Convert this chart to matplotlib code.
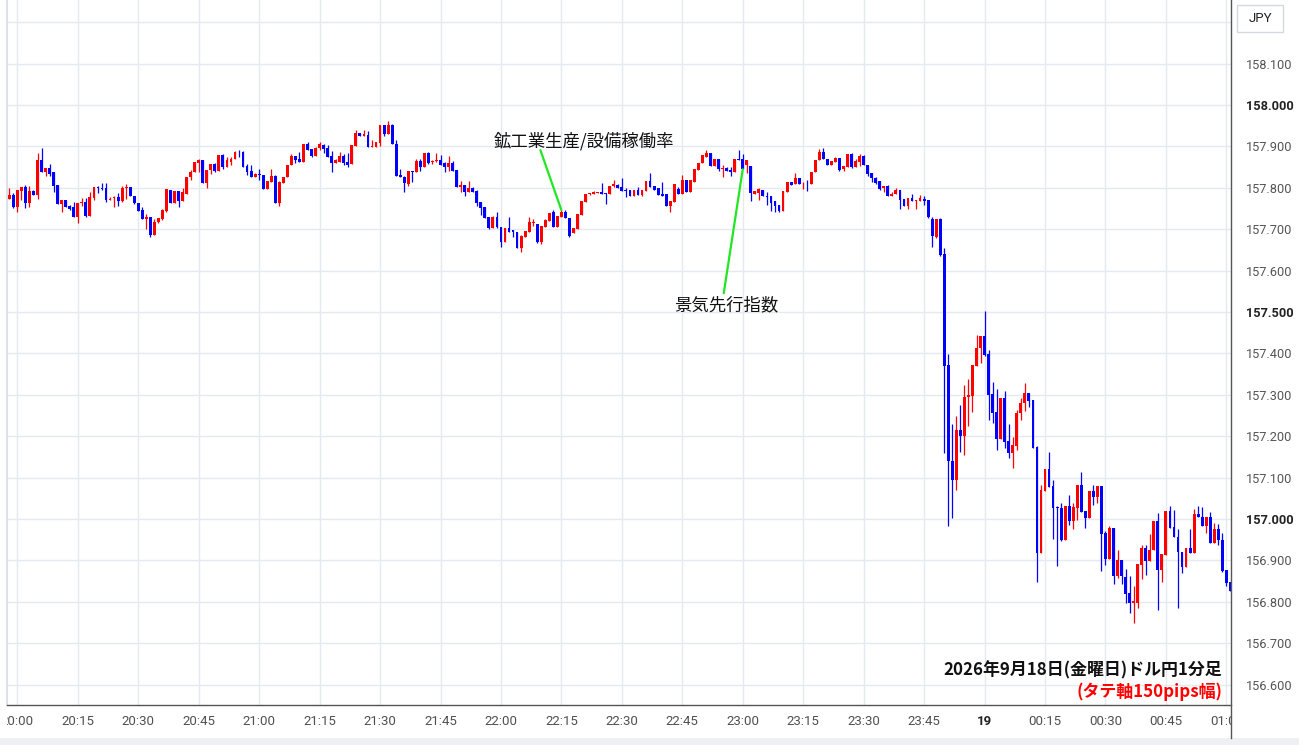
import matplotlib
matplotlib.use('Agg')
import matplotlib.pyplot as plt
from matplotlib.patches import Rectangle
from matplotlib.lines import Line2D
from matplotlib.transforms import Bbox, TransformedBbox
import numpy as np

# ---------------- data: USD/JPY 1-minute candles, first candle 19:58 ----------------
first_candle_minute = -2   # minutes relative to 20:00

opens = [
    157.773,157.783,157.754,157.792,157.802,157.764,157.792,157.783,157.867,157.838,
    157.847,157.837,157.807,157.762,157.771,157.756,157.754,157.730,157.763,157.766,
    157.732,157.775,157.802,157.800,157.800,157.771,157.775,157.778,157.768,157.800,
    157.802,157.780,157.764,157.746,157.725,157.729,157.687,157.717,157.725,157.745,
    157.795,157.764,157.792,157.768,157.786,157.825,157.837,157.861,157.867,157.812,
    157.842,157.858,157.841,157.879,157.851,157.863,157.870,157.887,157.887,157.853,
    157.841,157.827,157.833,157.831,157.798,157.815,157.829,157.764,157.812,157.825,
    157.854,157.877,157.870,157.863,157.906,157.894,157.878,157.895,157.903,157.895,
    157.877,157.859,157.863,157.877,157.863,157.857,157.902,157.933,157.924,157.928,
    157.899,157.899,157.909,157.952,157.930,157.952,157.906,157.831,157.827,157.809,
    157.841,157.837,157.865,157.851,157.885,157.862,157.865,157.867,157.859,157.851,
    157.861,157.843,157.803,157.807,157.791,157.799,157.793,157.766,157.753,157.730,
    157.702,157.730,157.705,157.670,157.702,157.698,157.694,157.654,157.682,157.694,
    157.714,157.713,157.670,157.705,157.721,157.742,157.706,157.730,157.742,157.728,
    157.692,157.700,157.735,157.766,157.784,157.785,157.787,157.791,157.788,157.784,
    157.805,157.807,157.803,157.795,157.795,157.781,157.795,157.783,157.793,157.817,
    157.805,157.799,157.785,157.784,157.757,157.765,157.797,157.785,157.820,157.791,
    157.815,157.843,157.859,157.874,157.883,157.853,157.870,157.845,157.847,157.843,
    157.839,157.870,157.870,157.855,157.853,157.785,157.788,157.795,157.781,157.780,
    157.767,157.759,157.744,157.789,157.815,157.808,157.823,157.811,157.812,157.809,
    157.837,157.866,157.886,157.869,157.855,157.863,157.871,157.845,157.851,157.882,
    157.851,157.863,157.878,157.855,157.835,157.823,157.816,157.799,157.805,157.781,
    157.784,157.795,157.773,157.757,157.775,157.767,157.769,157.772,157.771,157.724,
    157.682,157.724,157.640,157.372,157.140,157.094,157.215,157.201,157.294,157.298,
    157.370,157.412,157.442,157.399,157.302,157.259,157.193,157.292,157.189,157.160,
    157.177,157.255,157.279,157.305,157.288,157.175,156.919,157.068,157.121,157.080,
    157.030,157.027,156.949,157.031,156.996,157.027,157.082,157.020,157.003,157.068,
    157.054,157.080,156.967,156.903,156.979,156.863,156.901,156.861,156.822,156.796,
    156.796,156.889,156.929,156.899,156.925,156.995,156.877,156.913,157.019,156.980,
    156.956,156.920,156.883,156.929,156.919,157.012,157.004,156.982,157.004,156.943,
    156.975,156.949,156.877,156.849,
]
highs = [
    157.800,157.788,157.795,157.802,157.807,157.804,157.795,157.883,157.897,157.847,
    157.858,157.837,157.807,157.771,157.771,157.758,157.766,157.763,157.775,157.775,
    157.789,157.802,157.804,157.811,157.811,157.777,157.780,157.788,157.804,157.809,
    157.802,157.780,157.764,157.754,157.737,157.729,157.724,157.727,157.750,157.796,
    157.795,157.792,157.792,157.799,157.826,157.842,157.863,157.870,157.867,157.843,
    157.858,157.861,157.879,157.881,157.875,157.875,157.889,157.891,157.890,157.858,
    157.855,157.835,157.845,157.831,157.816,157.845,157.831,157.816,157.827,157.855,
    157.882,157.877,157.886,157.907,157.910,157.894,157.898,157.911,157.905,157.903,
    157.890,157.870,157.887,157.882,157.883,157.903,157.940,157.933,157.940,157.938,
    157.916,157.910,157.952,157.952,157.961,157.954,157.916,157.845,157.829,157.841,
    157.841,157.870,157.869,157.885,157.887,157.867,157.885,157.879,157.863,157.877,
    157.865,157.843,157.816,157.807,157.816,157.803,157.795,157.766,157.753,157.730,
    157.732,157.742,157.705,157.702,157.730,157.698,157.694,157.686,157.696,157.729,
    157.725,157.713,157.708,157.725,157.740,157.746,157.732,157.746,157.746,157.728,
    157.702,157.737,157.768,157.785,157.788,157.793,157.790,157.812,157.788,157.805,
    157.820,157.808,157.823,157.799,157.795,157.795,157.803,157.795,157.817,157.835,
    157.805,157.799,157.815,157.784,157.767,157.808,157.803,157.831,157.820,157.820,
    157.845,157.861,157.879,157.891,157.883,157.870,157.870,157.855,157.851,157.851,
    157.870,157.891,157.882,157.866,157.853,157.793,157.799,157.795,157.791,157.780,
    157.767,157.759,157.792,157.815,157.815,157.835,157.823,157.813,157.820,157.837,
    157.867,157.893,157.895,157.869,157.865,157.874,157.871,157.853,157.882,157.883,
    157.870,157.881,157.879,157.855,157.835,157.825,157.816,157.804,157.807,157.791,
    157.799,157.795,157.773,157.775,157.785,157.771,157.783,157.780,157.771,157.729,
    157.724,157.726,157.654,157.399,157.230,157.249,157.275,157.324,157.338,157.372,
    157.445,157.442,157.503,157.408,157.330,157.314,157.292,157.308,157.230,157.197,
    157.263,157.292,157.329,157.305,157.288,157.176,157.082,157.121,157.163,157.094,
    157.031,157.039,157.031,157.058,157.039,157.082,157.114,157.020,157.068,157.082,
    157.080,157.080,156.971,156.982,156.979,156.925,156.901,156.879,156.863,156.837,
    156.891,156.937,156.937,156.964,156.995,157.014,156.915,157.019,157.031,157.022,
    156.977,156.920,156.929,156.976,157.023,157.031,157.030,157.004,157.016,156.990,
    156.988,156.967,156.877,156.849,
]
lows = [
    157.772,157.752,157.742,157.771,157.752,157.754,157.783,157.773,157.838,157.829,
    157.829,157.791,157.762,157.742,157.754,157.746,157.730,157.716,157.756,157.730,
    157.732,157.771,157.788,157.795,157.766,157.771,157.754,157.756,157.766,157.774,
    157.779,157.761,157.745,157.725,157.701,157.680,157.687,157.716,157.722,157.742,
    157.764,157.764,157.754,157.768,157.786,157.820,157.837,157.839,157.812,157.800,
    157.833,157.837,157.841,157.845,157.851,157.855,157.870,157.875,157.851,157.831,
    157.827,157.827,157.819,157.798,157.798,157.815,157.763,157.757,157.812,157.825,
    157.854,157.859,157.863,157.863,157.891,157.875,157.878,157.891,157.883,157.875,
    157.837,157.859,157.863,157.855,157.851,157.857,157.902,157.924,157.924,157.898,
    157.899,157.899,157.902,157.926,157.930,157.905,157.829,157.825,157.791,157.805,
    157.815,157.837,157.841,157.851,157.858,157.857,157.863,157.855,157.837,157.841,
    157.841,157.803,157.791,157.781,157.791,157.791,157.755,157.734,157.728,157.701,
    157.702,157.702,157.656,157.670,157.694,157.680,157.654,157.644,157.682,157.694,
    157.708,157.666,157.664,157.705,157.721,157.706,157.706,157.730,157.728,157.682,
    157.692,157.700,157.735,157.766,157.783,157.784,157.787,157.785,157.761,157.784,
    157.803,157.800,157.793,157.777,157.781,157.781,157.783,157.781,157.793,157.803,
    157.795,157.783,157.781,157.757,157.741,157.765,157.785,157.785,157.791,157.791,
    157.815,157.843,157.859,157.874,157.853,157.853,157.841,157.825,157.841,157.829,
    157.839,157.867,157.845,157.835,157.767,157.785,157.771,157.779,157.758,157.745,
    157.742,157.742,157.744,157.789,157.807,157.808,157.808,157.796,157.793,157.809,
    157.837,157.866,157.869,157.855,157.855,157.863,157.841,157.841,157.851,157.849,
    157.851,157.853,157.854,157.829,157.815,157.808,157.795,157.791,157.781,157.781,
    157.784,157.748,157.757,157.750,157.767,157.748,157.767,157.758,157.726,157.658,
    157.678,157.636,157.159,156.982,157.003,157.069,157.163,157.155,157.225,157.259,
    157.370,157.376,157.394,157.239,157.233,157.167,157.193,157.171,157.147,157.124,
    157.167,157.238,157.262,157.271,157.171,156.849,156.919,157.068,157.078,156.952,
    156.887,156.948,156.949,156.986,156.976,156.998,157.018,156.979,157.003,157.035,
    157.039,156.875,156.889,156.903,156.842,156.858,156.843,156.796,156.772,156.750,
    156.784,156.854,156.865,156.899,156.925,156.779,156.849,156.913,156.979,156.956,
    156.784,156.869,156.883,156.919,156.919,157.004,156.982,156.967,156.941,156.943,
    156.936,156.873,156.837,156.825,
]
closes = [
    157.783,157.754,157.795,157.802,157.764,157.792,157.783,157.867,157.838,157.847,
    157.833,157.804,157.762,157.771,157.754,157.750,157.730,157.763,157.766,157.732,
    157.778,157.802,157.799,157.796,157.771,157.774,157.778,157.768,157.800,157.802,
    157.779,157.763,157.745,157.725,157.729,157.687,157.717,157.727,157.746,157.796,
    157.764,157.792,157.768,157.791,157.826,157.839,157.863,157.867,157.812,157.843,
    157.858,157.841,157.879,157.851,157.866,157.870,157.887,157.886,157.851,157.837,
    157.827,157.833,157.831,157.798,157.816,157.829,157.764,157.815,157.825,157.855,
    157.877,157.867,157.863,157.906,157.891,157.878,157.895,157.905,157.894,157.875,
    157.859,157.866,157.878,157.861,157.855,157.903,157.932,157.924,157.930,157.898,
    157.902,157.910,157.952,157.930,157.952,157.905,157.829,157.825,157.811,157.841,
    157.838,157.865,157.851,157.885,157.861,157.865,157.867,157.855,157.851,157.861,
    157.841,157.803,157.807,157.791,157.799,157.791,157.764,157.751,157.728,157.702,
    157.730,157.705,157.670,157.702,157.694,157.694,157.654,157.684,157.696,157.718,
    157.718,157.668,157.708,157.722,157.740,157.706,157.732,157.742,157.728,157.684,
    157.702,157.737,157.768,157.785,157.787,157.789,157.789,157.785,157.785,157.805,
    157.808,157.800,157.793,157.793,157.781,157.795,157.783,157.795,157.817,157.803,
    157.795,157.783,157.781,157.757,157.767,157.808,157.785,157.820,157.791,157.820,
    157.845,157.861,157.879,157.883,157.853,157.870,157.845,157.847,157.841,157.837,
    157.870,157.867,157.845,157.866,157.787,157.793,157.796,157.779,157.777,157.764,
    157.757,157.744,157.792,157.815,157.807,157.823,157.808,157.812,157.811,157.837,
    157.867,157.886,157.869,157.855,157.865,157.871,157.843,157.853,157.882,157.851,
    157.865,157.878,157.854,157.833,157.823,157.812,157.797,157.804,157.781,157.785,
    157.795,157.771,157.757,157.775,157.767,157.771,157.775,157.769,157.729,157.684,
    157.724,157.638,157.370,157.139,157.094,157.215,157.201,157.294,157.300,157.372,
    157.413,157.442,157.396,157.300,157.257,157.193,157.292,157.187,157.160,157.179,
    157.255,157.280,157.305,157.286,157.172,156.919,157.070,157.121,157.078,157.027,
    157.026,156.949,157.031,156.996,157.028,157.082,157.018,157.003,157.068,157.054,
    157.080,156.964,156.903,156.979,156.863,156.901,156.863,156.820,156.796,156.802,
    156.891,156.929,156.899,156.925,156.995,156.877,156.915,157.019,156.979,156.956,
    156.920,156.883,156.929,156.919,157.012,157.004,156.982,157.004,156.943,156.975,
    156.949,156.875,156.846,156.825,
]

xtick_minutes = list(range(0, 301, 15))
xtick_labels = ["20:00", "20:15", "20:30", "20:45", "21:00", "21:15", "21:30", "21:45",
                "22:00", "22:15", "22:30", "22:45", "23:00", "23:15", "23:30", "23:45",
                "19", "00:15", "00:30", "00:45", "01:00"]
ytick_values = [156.6, 156.7, 156.8, 156.9, 157.0, 157.1, 157.2, 157.3, 157.4,
                157.5, 157.6, 157.7, 157.8, 157.9, 158.0, 158.1, 158.2]
ytick_bold = [157.0, 157.5, 158.0]

event_texts = ["鉱工業生産/設備稼働率", "景気先行指数"]
event_minutes = [135, 180]          # 22:15 and 23:00
title_text = "2026年9月18日(金曜日)ドル円1分足"
sub_text = "(タテ軸150pips幅)"

# ---------------- figure ----------------
W, H = 1299, 745
fig = plt.figure(figsize=(W / 100, H / 100), dpi=100)
fig.patch.set_facecolor('white')
ax_l, ax_r, ax_top, ax_bot = 7, 1231, 0, 705
ax = fig.add_axes([ax_l / W, (H - ax_bot) / H, (ax_r - ax_l) / W, (ax_bot - ax_top) / H])

n = len(opens)
assert n == len(highs) == len(lows) == len(closes)
o = np.array(opens); h = np.array(highs); l = np.array(lows); c = np.array(closes)
t = np.arange(n) + first_candle_minute
up = c >= o
RED, BLUE = '#ff0000', '#0000ff'
cols = np.where(up, RED, BLUE)

hi = np.maximum(h, np.maximum(o, c))
lo = np.minimum(l, np.minimum(o, c))
ax.vlines(t, lo, hi, colors=cols, linewidth=0.9, zorder=3)
body_bot = np.minimum(o, c)
body_h = np.maximum(np.abs(c - o), 0.0016)
ax.bar(t, body_h, bottom=body_bot, width=0.7, color=cols, edgecolor='none',
       linewidth=0, zorder=4)

# axis ranges
px_per_min = 4.03
x0 = first_candle_minute - (9.3 - ax_l) / px_per_min
x1 = x0 + (ax_r - ax_l) / px_per_min
ax.set_xlim(x0, x1)
ax.set_ylim(158.0 - 600 / 414, 158.0 + 105 / 414)

# grid
ax.set_xticks(xtick_minutes)
ax.set_xticklabels(xtick_labels)
ax.set_yticks(ytick_values)
ax.set_yticklabels(["" if abs(v - 158.2) < 1e-9 else f"{v:.3f}" for v in ytick_values])
ax.grid(True, color='#e4eaf0', linewidth=1.0, zorder=0)
ax.set_axisbelow(True)
ax.yaxis.tick_right()
ax.tick_params(axis='x', length=0, pad=7, labelsize=9.5, labelcolor='#505050')
ax.tick_params(axis='y', length=0, pad=11, labelsize=9.2, labelcolor='#555555')
for lab in ax.get_xticklabels():
    lab.set_fontfamily(['Roboto', 'DejaVu Sans'])
    if lab.get_text() == "19":
        lab.set_fontweight('bold'); lab.set_color('#222222')
for lab, v in zip(ax.get_yticklabels(), ytick_values):
    lab.set_fontfamily(['Roboto', 'DejaVu Sans'])
    if any(abs(v - b) < 1e-9 for b in ytick_bold):
        lab.set_fontweight('bold'); lab.set_color('#222222')

clip = TransformedBbox(Bbox([[ax_l / W, 0], [ax_r / W, 1]]), fig.transFigure)
for lab in ax.get_xticklabels():
    lab.set_clip_box(clip); lab.set_clip_on(True)

for s in ['top', 'right']:
    ax.spines[s].set_visible(False)
ax.spines['left'].set_color('#dde2e8'); ax.spines['left'].set_linewidth(1.5)
ax.spines['bottom'].set_color('#555555'); ax.spines['bottom'].set_linewidth(1.0)

# right separator and bottom band
fig.add_artist(Line2D([ax_r / W, ax_r / W], [7 / H, 1], transform=fig.transFigure,
                      color='#555555', linewidth=1.0))
fig.add_artist(Rectangle((0, 0), 1, 7 / H, transform=fig.transFigure,
                         facecolor='#eef0f3', edgecolor='none'))

# JPY box
fig.add_artist(Rectangle((1237 / W, (H - 32) / H), 46 / W, 27 / H, transform=fig.transFigure,
                         facecolor='white', edgecolor='#d5d9df', linewidth=1.0))
fig.text(1260 / W, (H - 18.5) / H, "JPY", ha='center', va='center', fontsize=9.5,
         color='#222222', family=['Roboto', 'DejaVu Sans'])

# event annotations
JP = ['Noto Sans CJK JP', 'DejaVu Sans']
GREEN = '#22e622'
px2pt = 0.72
idx1 = event_minutes[0] - first_candle_minute
idx2 = event_minutes[1] - first_candle_minute
tip1 = (event_minutes[0], hi[idx1])
tip2 = (event_minutes[1], lo[idx2])
ax.annotate('', xy=tip1, xytext=(-21 * px2pt, 60 * px2pt), textcoords='offset points',
            arrowprops=dict(arrowstyle='-', color=GREEN, lw=1.6, shrinkA=0, shrinkB=0), zorder=6)
ax.annotate(event_texts[0], xy=tip1, xytext=(23 * px2pt, 69 * px2pt), textcoords='offset points',
            ha='center', va='center', fontsize=12.5, family=JP, color='#111111', zorder=7)
ax.annotate('', xy=tip2, xytext=(-19 * px2pt, -124 * px2pt), textcoords='offset points',
            arrowprops=dict(arrowstyle='-', color=GREEN, lw=1.6, shrinkA=0, shrinkB=0), zorder=6)
ax.annotate(event_texts[1], xy=tip2, xytext=(-16 * px2pt, -136 * px2pt), textcoords='offset points',
            ha='center', va='center', fontsize=12.5, family=JP, color='#111111', zorder=7)

# footer text
ax.text((1222 - ax_l) / (ax_r - ax_l), (ax_bot - 670) / (ax_bot - ax_top), title_text,
        transform=ax.transAxes, ha='right', va='center', fontsize=12.2, family=JP,
        fontweight='bold', color='#111111', zorder=7)
ax.text((1222 - ax_l) / (ax_r - ax_l), (ax_bot - 692) / (ax_bot - ax_top), sub_text,
        transform=ax.transAxes, ha='right', va='center', fontsize=12.2, family=JP,
        fontweight='bold', color='#ff0000', zorder=7)

fig.savefig('out.png', dpi=100, facecolor='white')
